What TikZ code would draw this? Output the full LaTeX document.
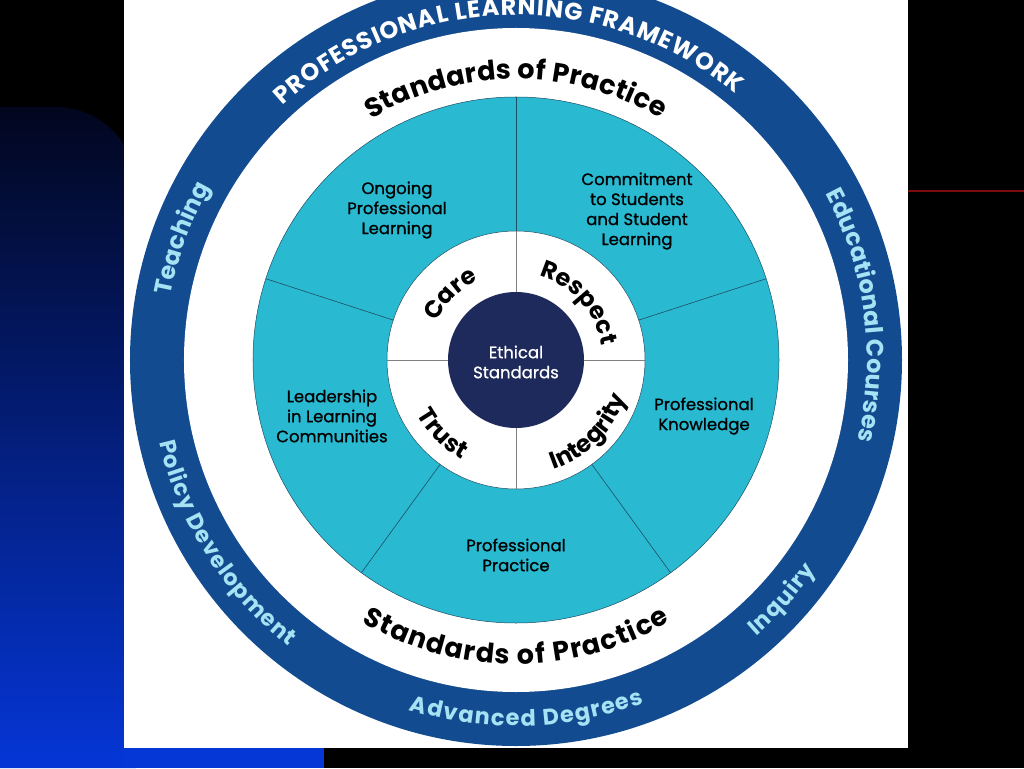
\documentclass[tikz,border=0pt]{standalone}
\usepackage{fontspec}
\usetikzlibrary{decorations.text}
\newfontfamily\popfont{Poppins}
\newfontfamily\popmed[FakeBold=0.9]{Poppins}
\newcommand\bandfont{\popfont\bfseries\fontsize{24}{24}\selectfont}
\newcommand\bandsmallfont{\popfont\bfseries\fontsize{22.5}{22.5}\selectfont}
\newcommand\practicefont{\popfont\bfseries\fontsize{27}{27}\selectfont}
\newcommand\valuefont{\popfont\bfseries\fontsize{24}{24}\selectfont}
\definecolor{ringblue}{HTML}{124B8F}
\definecolor{wheelteal}{HTML}{29B9D1}
\definecolor{corenavy}{HTML}{1F2A5C}
\definecolor{ringtext}{HTML}{A5E2F4}
\definecolor{spokeline}{HTML}{1D4F66}
\definecolor{navytop}{HTML}{02061E}
\definecolor{navymid}{HTML}{0020A0}
\definecolor{brightblue}{HTML}{0536D6}
\definecolor{slidered}{HTML}{7A0C0C}
% centred text on an arc: clockwise (tops out) / counter-clockwise (tops in)
\def\cwtext[#1](#2:#3)#4{\path[decorate,decoration={text along path,text align=center,text color=#1,text={#4}}] ({#2+70}:#3) arc[start angle={#2+70},end angle={#2-70},radius=#3];}
\def\ccwtext[#1](#2:#3)#4{\path[decorate,decoration={text along path,text align=center,text color=#1,text={#4}}] ({#2-70}:#3) arc[start angle={#2-70},end angle={#2+70},radius=#3];}
% text spread over the arc from #2 to #3
\def\fittext[#1](#2:#3:#4)#5{\path[decorate,decoration={text along path,text align=fit to path,text color=#1,text={#5}}] (#2:#4) arc[start angle=#2,end angle=#3,radius=#4];}

\begin{document}
\begin{tikzpicture}[x=1pt,y=1pt,
    sector/.style={font=\popmed\fontsize{16.5}{20}\selectfont,align=center,text=black},
    spoke/.style={spokeline,line width=0.6pt}]
\useasboundingbox (-516,-408) rectangle (508,360);
%%%%% BACKGROUND %%%%%
\fill[black] (-516,-408) rectangle (508,360);
\shade[top color=navytop,middle color=navymid,bottom color=brightblue]
  (-516,-408) -- (-516,253) -- (-460,253) arc[start angle=90,end angle=0,radius=80] -- (-380,-408) -- cycle;
\fill[brightblue] (-392,-408) rectangle (-192,-388);
\draw[slidered,line width=1.2pt] (392,169) -- (508,169);
\fill[white] (-392,-388) rectangle (392,360);

%%%%% WHEEL %%%%%
\fill[ringblue] (0,0) circle (386);
\fill[white] (0,0) circle (332);
\filldraw[fill=wheelteal,draw=spokeline,line width=0.5pt] (0,0) circle (263);
\filldraw[fill=white,draw=spokeline,line width=0.5pt] (0,0) circle (129);
\foreach \a in {18,90,162,234,306}
  \draw[spoke] (\a:129) -- (\a:263);
\foreach \a in {0,90,180,270}
  \draw[gray,line width=0.6pt] (\a:68) -- (\a:129);
\fill[corenavy] (0,0) circle (68);

%%%%% LABELS %%%%%
\node[sector,text=white] (core) at (0,-2) {Ethical\\Standards};
\node[sector] (ongoing) at (-119,150) {Ongoing\\Professional\\Learning};
\node[sector] (commit) at (121,149) {Commitment\\to Students\\and Student\\Learning};
\node[sector] (lead) at (-184,-56) {Leadership\\in Learning\\Communities};
\node[sector] (know) at (188,-56) {Professional\\Knowledge};
\node[sector] (practice) at (0,-195) {Professional\\Practice};

\cwtext[black](135:88){|\valuefont|Care}
\cwtext[black](42:87){|\valuefont|Respect}
\ccwtext[black](225:113){|\valuefont|Trust}
\ccwtext[black](315:116){|\valuefont|Integrity}

\fittext[black](121:59:281){|\practicefont|Standards of Practice}
\fittext[black](239.5:300.5:304){|\practicefont|Standards of Practice}

\fittext[white](132.5:50.5:345){|\bandfont|PROFESSIONAL LEARNING FRAMEWORK}
\cwtext[ringtext](160:351){|\bandfont|Teaching}
\cwtext[ringtext](7.5:351){|\bandfont|Educational Courses}
\fittext[ringtext](193:231.5:366){|\bandsmallfont|Policy Development}
\fittext[ringtext](253:290.5:366){|\bandsmallfont|Advanced Degrees}
\fittext[ringtext](311:325:366){|\bandsmallfont|Inquiry}
\end{tikzpicture}
\end{document}
